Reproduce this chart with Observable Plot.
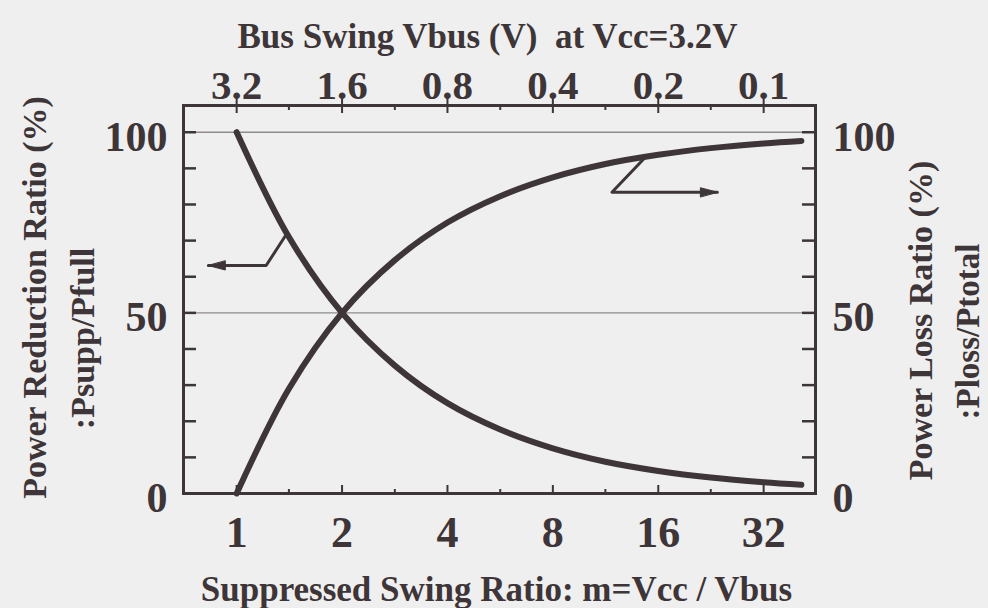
<!DOCTYPE html>
<html>
<head>
<meta charset="utf-8">
<script src="https://cdn.jsdelivr.net/npm/d3@7"></script>
<script src="https://cdn.jsdelivr.net/npm/@observablehq/plot@0.6"></script>
<style>
  html, body { margin: 0; padding: 0; background: #efefef; }
</style>
</head>
<body>
<div id="chart"></div>
<script>
// Suppressed swing ratio m = Vcc / Vbus (bottom axis) and bus swing at Vcc = 3.2 V (top axis)
const swingRatio = [1, 1.41, 2, 2.83, 4, 5.66, 8, 11.3, 16, 22.6, 32, 41];
// Power reduction ratio Psupp/Pfull (%) — left axis
const reductionPct = [100, 71, 50, 35.4, 25, 17.7, 12.5, 8.8, 6.25, 4.4, 3.1, 2.4];
// Power loss ratio Ploss/Ptotal (%) — right axis
const lossPct = [0, 29, 50, 64.6, 75, 82.3, 87.5, 91.2, 93.75, 95.6, 96.9, 97.6];

const bottomTicks = [1, 2, 4, 8, 16, 32];
const topTickLabels = ["3.2", "1.6", "0.8", "0.4", "0.2", "0.1"];
const minorTicks = [0.707, 1.41, 2.83, 5.66, 11.3, 22.6, 45];
const yLabelTicks = [0, 50, 100];
const yTicks = [10, 20, 30, 40, 50, 60, 70, 80, 90, 100];
const gridLines = [50, 100];

// Pointer callouts: curve point -> elbow -> arrow tip
const leftPointerM = [1.39, 1.214, 0.83];
const leftPointerV = [71.9, 63.1, 63.1];
const rightPointerM = [14.7, 11.8, 23.6];
const rightPointerV = [93.1, 83.4, 83.4];

const ink = "#3d3537";
const W = 988, H = 608;
const mL = 183, mR = 173, mT = 105, mB = 115;
const plotW = W - mL - mR, plotH = H - mT - mB;

const reduction = swingRatio.map((m, i) => ({m, v: reductionPct[i]}));
const loss = swingRatio.map((m, i) => ({m, v: lossPct[i]}));
const leftPointer = leftPointerM.map((m, i) => ({m, v: leftPointerV[i]}));
const rightPointer = rightPointerM.map((m, i) => ({m, v: rightPointerV[i]}));
const topTicks = bottomTicks.map((m, i) => ({m, label: topTickLabels[i]}));

const arrowHead = {
  draw(context, l) {
    context.moveTo(0, -l);
    context.lineTo(-4.5, 0);
    context.lineTo(4.5, 0);
    context.closePath();
  }
};

const chart = Plot.plot({
  width: W,
  height: H,
  marginLeft: mL,
  marginRight: mR,
  marginTop: mT,
  marginBottom: mB,
  style: {
    background: "#efefef",
    color: ink,
    fontFamily: "'Liberation Serif', 'DejaVu Serif', serif",
    fontWeight: "bold"
  },
  x: {type: "log", base: 2, domain: [0.705, 45]},
  y: {domain: [0, 107.4]},
  marks: [
    Plot.ruleY(gridLines, {stroke: "#8f8b8c", strokeWidth: 1.3}),
    // inward ticks on the left and right frame edges
    Plot.tickY(yTicks, {y: d => d, insetRight: plotW - 13, stroke: ink, strokeWidth: 2.5}),
    Plot.tickY(yTicks, {y: d => d, insetLeft: plotW - 13, stroke: ink, strokeWidth: 2.5}),
    // bottom ticks
    Plot.tickX(bottomTicks, {x: d => d, insetTop: plotH - 8, stroke: ink, strokeWidth: 2}),
    Plot.tickX(minorTicks, {x: d => d, insetTop: plotH - 4, stroke: ink, strokeWidth: 2}),
    // top ticks (majors cross the axis line)
    Plot.tickX(bottomTicks, {x: d => d, insetTop: -10, insetBottom: plotH - 8, stroke: ink, strokeWidth: 2}),
    Plot.tickX(minorTicks, {x: d => d, insetBottom: plotH - 5, stroke: ink, strokeWidth: 2}),
    Plot.frame({stroke: ink, strokeWidth: 3}),
    Plot.axisX(bottomTicks, {anchor: "bottom", tickSize: 0, tickPadding: 22, fontSize: 44, label: null, tickFormat: d => `${d}`}),
    // top scale: bus swing in volts at the same positions
    Plot.text(topTicks, {x: "m", text: "label", frameAnchor: "top", dy: -7, lineAnchor: "bottom", fontSize: 41, fill: ink}),
    Plot.axisY(yLabelTicks, {anchor: "left", tickSize: 0, tickPadding: 16, fontSize: 42, dy: 5, label: null}),
    Plot.axisY(yLabelTicks, {anchor: "right", tickSize: 0, tickPadding: 17, fontSize: 42, dy: 5, label: null}),
    // curves
    Plot.line(reduction, {x: "m", y: "v", stroke: ink, strokeWidth: 6, curve: "catmull-rom"}),
    Plot.line(loss, {x: "m", y: "v", stroke: ink, strokeWidth: 6, curve: "catmull-rom"}),
    // callout pointers
    Plot.line(leftPointer, {x: "m", y: "v", stroke: ink, strokeWidth: 3}),
    Plot.line(rightPointer, {x: "m", y: "v", stroke: ink, strokeWidth: 3}),
    Plot.vector([leftPointer[2]], {x: "m", y: "v", length: 17, rotate: -90, anchor: "end", shape: arrowHead, fill: ink, stroke: ink, strokeWidth: 1}),
    Plot.vector([rightPointer[2]], {x: "m", y: "v", length: 17, rotate: 90, anchor: "end", shape: arrowHead, fill: ink, stroke: ink, strokeWidth: 1}),
    // titles
    Plot.text(["Bus Swing Vbus (V)  at Vcc=3.2V"], {frameAnchor: "top", dx: -12, dy: -58, lineAnchor: "bottom", fontSize: 35, fill: ink}),
    Plot.text(["Suppressed Swing Ratio: m=Vcc / Vbus"], {frameAnchor: "bottom", dx: -3, dy: 107, lineAnchor: "bottom", fontSize: 35, fill: ink}),
    Plot.text(["Power Reduction Ratio (%)"], {frameAnchor: "left", textAnchor: "middle", dx: -148, dy: -2, rotate: -90, fontSize: 34, fill: ink}),
    Plot.text([":Psupp/Pfull"], {frameAnchor: "left", textAnchor: "middle", dx: -100, dy: 39, rotate: -90, fontSize: 34, fill: ink}),
    Plot.text(["Power Loss Ratio (%)"], {frameAnchor: "right", textAnchor: "middle", dx: 106, dy: 21, rotate: -90, fontSize: 34, fill: ink}),
    Plot.text([":Ploss/Ptotal"], {frameAnchor: "right", textAnchor: "middle", dx: 153, dy: 32, rotate: -90, fontSize: 33, fill: ink})
  ]
});

document.getElementById("chart").appendChild(chart);
</script>
</body>
</html>
